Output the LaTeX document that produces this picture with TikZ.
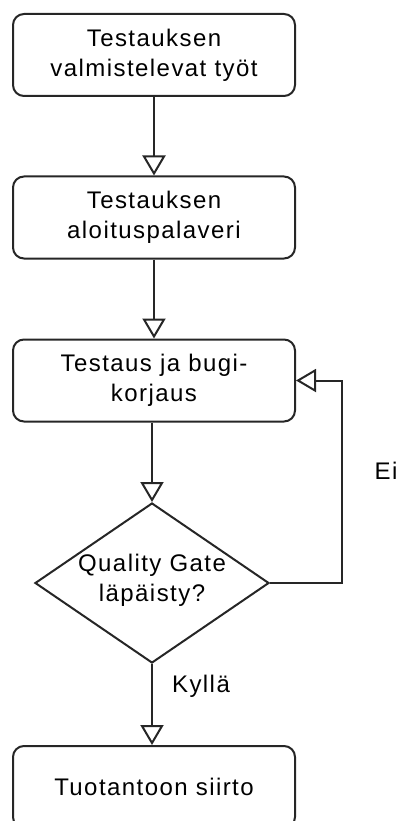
\documentclass[tikz,border=0pt]{standalone}
\usepackage{fontspec}
\setmainfont[LetterSpace=6]{Liberation Sans}
\usetikzlibrary{shapes.geometric,arrows.meta}
\begin{document}
\begin{tikzpicture}[x=1pt,y=-1pt,
  every node/.style={font=\fontsize{24}{30}\selectfont, text=black},
  stepbox/.style={draw=black!85, line width=2pt, rounded corners=11pt,
    minimum width=282pt, minimum height=82pt, align=center, inner sep=0pt},
  gatebox/.style={draw=black!85, line width=2pt, shape=diamond,
    minimum width=234pt, minimum height=160pt, inner sep=0pt},
  flow/.style={draw=black!85, line width=2pt,
    -{Triangle[open, length=20pt, width=23pt, line width=2pt]}},
  lbl/.style={inner sep=0pt}]
  \useasboundingbox (0,0) rectangle (401,821);
  % process steps
  \node[stepbox] (prep)  at (154,55)    {Testauksen\\valmistelevat työt};
  \node[stepbox] (kick)  at (154,217.5) {Testauksen\\aloituspalaveri};
  \node[stepbox] (test)  at (154,380.5) {Testaus ja bugi-\\korjaus};
  \node[gatebox] (gate)  at (152,583)   {};
  \node[lbl, align=center] (gatetxt) at (152,580) {Quality Gate\\läpäisty?};
  \node[stepbox] (prod)  at (154,787)   {Tuotantoon siirto};
  % connectors
  \draw[flow] (prep) -- (kick);
  \draw[flow] (kick) -- (test);
  \draw[flow] (test.south -| gate.north) -- (gate.north);
  \draw[flow] (gate.south) -- (gate.south |- prod.north);
  \coordinate (loopturn) at (342,583);
  \draw[flow] (gate.east) -- (loopturn) |- (test.east);
  % branch labels
  \node[lbl] (ei)    at (386,471) {Ei};
  \node[lbl] (kylla) at (201,686) {Kyllä};
\end{tikzpicture}
\end{document}
